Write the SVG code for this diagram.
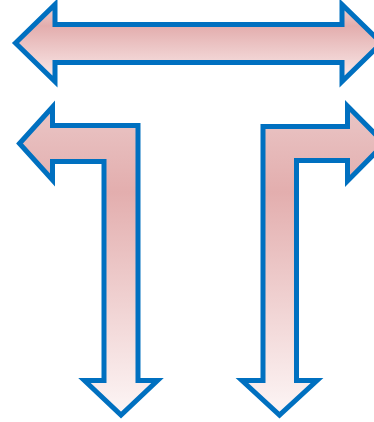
<svg xmlns="http://www.w3.org/2000/svg" width="374" height="422" viewBox="0 0 374 422">
<defs>
<linearGradient id="gTop" x1="0" y1="4" x2="0" y2="82" gradientUnits="userSpaceOnUse">
<stop offset="0" stop-color="#eed2d2"/>
<stop offset="0.28" stop-color="#e3adad"/>
<stop offset="1" stop-color="#fbeeee"/>
</linearGradient>
<linearGradient id="gBent" x1="0" y1="105" x2="0" y2="416" gradientUnits="userSpaceOnUse">
<stop offset="0" stop-color="#eac6c6"/>
<stop offset="0.28" stop-color="#e3aeae"/>
<stop offset="1" stop-color="#fdf6f6"/>
</linearGradient>
<style>
.arrow{stroke:#0070c0;stroke-width:5;stroke-linejoin:miter;stroke-miterlimit:10}
</style>
</defs>
<g id="top-arrow">
<path class="arrow" fill="url(#gTop)" d="M15.5,43 L55,4.5 L55,24.5 L342,24.5 L342,4.5 L381.5,43 L342,81.5 L342,62.5 L55,62.5 L55,81.5 Z"/>
</g>
<g id="left-bent-arrow">
<path class="arrow" fill="url(#gBent)" d="M19.5,143.5 L52.5,107 L52.5,125.5 L138,125.5 L138,380.5 L157.5,380.5 L121,415 L84.5,380.5 L104,380.5 L104,161.5 L52.5,161.5 L52.5,180 Z"/>
</g>
<g id="right-bent-arrow">
<path class="arrow" fill="url(#gBent)" d="M263,380.5 L263,126.5 L347.5,126.5 L347.5,106 L384.5,143.5 L347.5,181 L347.5,160.5 L296.5,160.5 L296.5,380.5 L317,380.5 L279.5,415 L242,380.5 Z"/>
</g>
</svg>
